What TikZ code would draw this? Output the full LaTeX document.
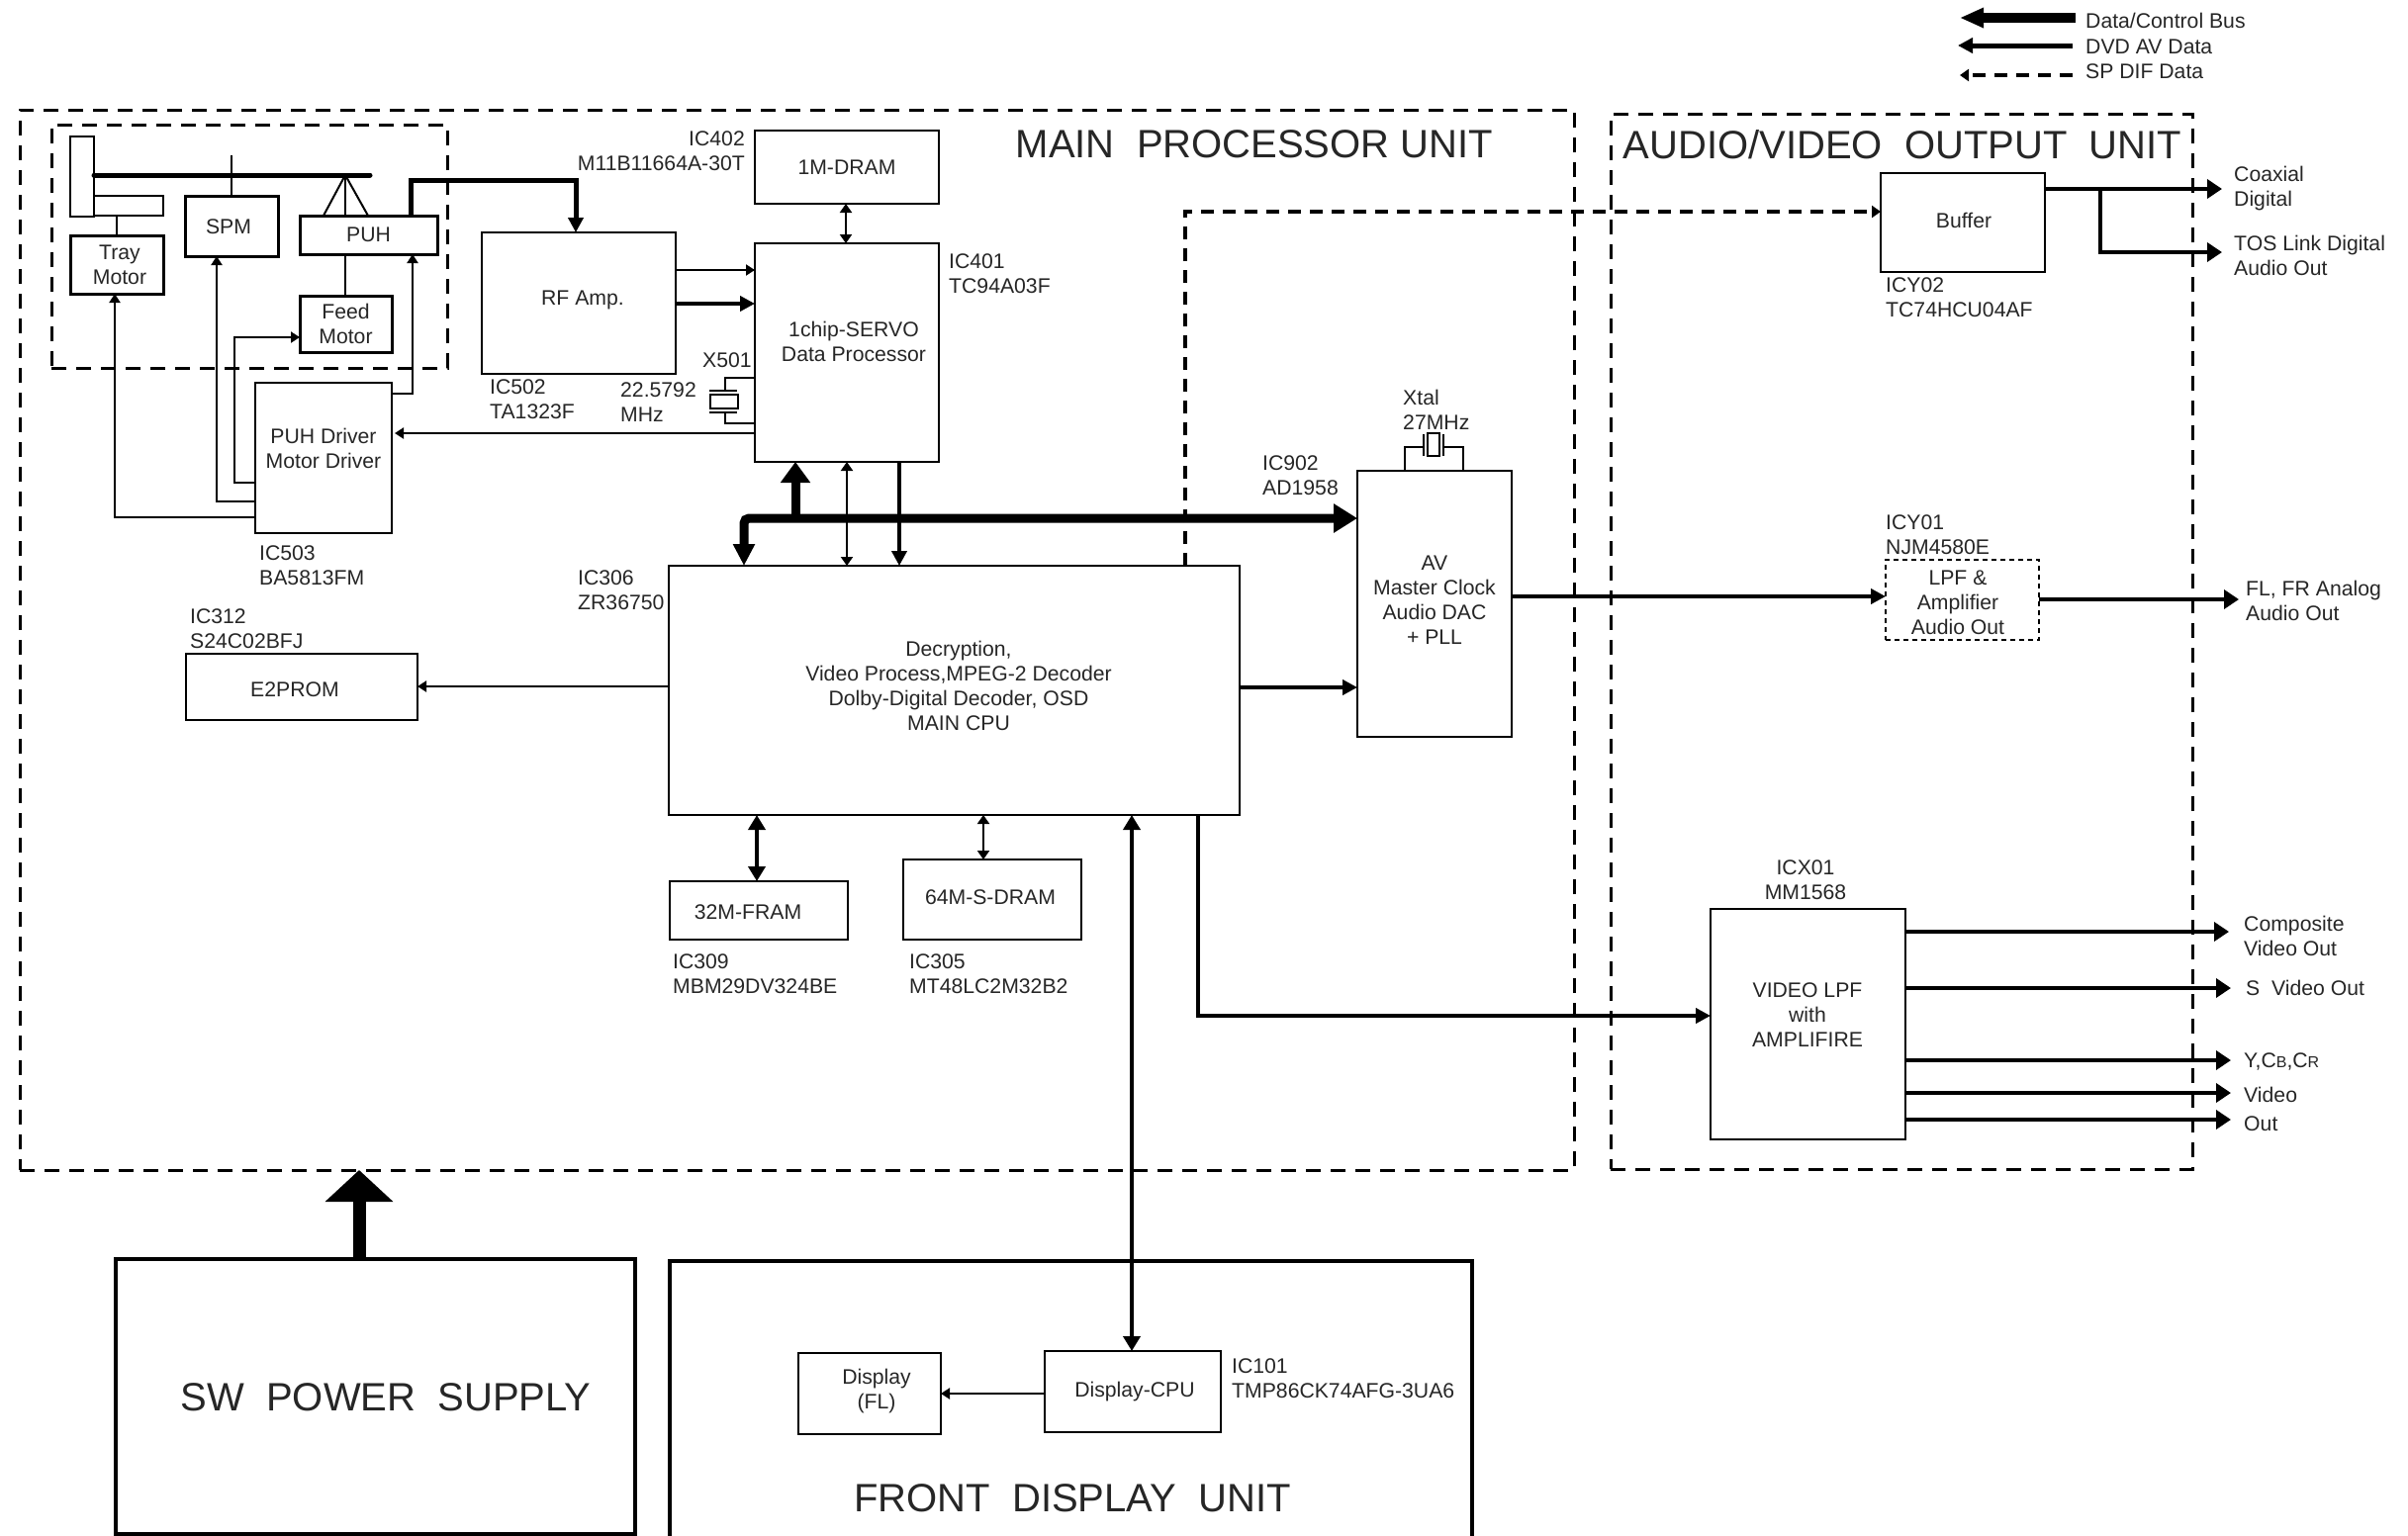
\documentclass[tikz,border=0pt]{standalone}
\usepackage{fontspec}
\setmainfont{Liberation Sans}
\usetikzlibrary{arrows.meta}

\begin{document}
\begin{tikzpicture}[x=1pt,y=-1pt,
  box/.style={draw, line width=2.2pt, inner sep=0pt, outer sep=0pt, align=center, anchor=north west,
    font=\fontsize{21.2}{25}\selectfont, text=black!85},
  bigbox/.style={box, line width=4.5pt},
  txt/.style={inner sep=0pt, align=center, font=\fontsize{21.2}{25}\selectfont, text=black!85},
  note/.style={txt, align=left, anchor=west},
  titletxt/.style={inner sep=0pt, font=\fontsize{40}{46}\selectfont, text=black!85},
  unitframe/.style={draw, line width=3pt, dash pattern=on 15pt off 10pt, anchor=north west, inner sep=0pt, outer sep=0pt},
  wire/.style={line width=2pt},
  thinarrow/.style={line width=2pt, -{Triangle[length=9pt,width=11pt]}},
  thinboth/.style={line width=2pt, {Triangle[length=9pt,width=12pt]}-{Triangle[length=9pt,width=12pt]}},
  dataline/.style={line width=4.5pt, -{Triangle[length=15pt,width=15pt]}},
  dvdarrow/.style={line width=4.5pt, -{Triangle[length=15pt,width=19pt]}},
  dvdboth/.style={line width=4.5pt, {Triangle[length=15pt,width=17pt]}-{Triangle[length=15pt,width=17pt]}},
  busarrow/.style={line width=9pt, -{Triangle[length=21pt,width=29pt]}},
  busboth/.style={line width=9pt, rounded corners=5pt, {Triangle[length=22pt,width=21pt]}-{Triangle[length=24pt,width=28pt]}},
  spdif/.style={line width=4pt, dash pattern=on 13pt off 9pt, -{Triangle[length=9pt,width=12pt]}}
]
\useasboundingbox (0,0) rectangle (2434,1553);

% unit frames
\node[unitframe, minimum width=1571pt, minimum height=1072pt] (mainunit) at (20,111) {};
\node[unitframe, minimum width=588pt, minimum height=1067pt] (avunit) at (1628,115) {};
\node[unitframe, minimum width=400pt, minimum height=246pt] (mechunit) at (52,126) {};
\node[titletxt] (maintitle) at (1268,146) {MAIN\ \ PROCESSOR UNIT};
\node[titletxt] (avtitle) at (1923,146) {AUDIO/VIDEO\ \ OUTPUT\ \ UNIT};

% legend
\coordinate (legbusr) at (2098,18);
\coordinate (legbusl) at (1981,18);
\coordinate (legdvdr) at (2095,46);
\coordinate (legdvdl) at (1979,46);
\coordinate (legspr) at (2095,76);
\coordinate (legspl) at (1981,76);
\draw[line width=10pt, -{Triangle[length=24pt,width=19pt]}] (legbusr) -- (legbusl);
\draw[line width=5pt, -{Triangle[length=15pt,width=15pt]}] (legdvdr) -- (legdvdl);
\draw[spdif] (legspr) -- (legspl);
\node[note] (legbus) at (2108,21) {Data/Control Bus};
\node[note] (legdvd) at (2108,47) {DVD AV Data};
\node[note] (legsp) at (2108,72) {SP DIF Data};

% mechanism
\node[box, minimum width=24pt, minimum height=81pt] (slot) at (71,138) {};
\node[box, minimum width=70pt, minimum height=20pt] (trayrail) at (95,198) {};
\node[box, line width=3pt, minimum width=94pt, minimum height=59pt] (tray) at (71,238) {};
\node[txt] (traytext) at (121,268) {Tray\\Motor};
\node[box, line width=3pt, minimum width=94pt, minimum height=61pt] (spm) at (187,198) {};
\node[txt] (spmtext) at (231,229) {SPM};
\node[box, line width=3pt, minimum width=139pt, minimum height=39pt] (puh) at (303,218) {PUH};
\node[box, line width=3pt, minimum width=93pt, minimum height=57pt] (feed) at (303,299) {Feed\\Motor};
\coordinate (spindle) at (234,157);
\coordinate (apex) at (349,177);
\coordinate (railend) at (374,177);
\draw[line width=5pt, line cap=round] (slot.east |- apex) -- (railend);
\draw[wire] (tray.north |- trayrail.south) -- (tray.north);
\draw[wire] (spindle) -- (spm.north);
\draw[wire] (apex) -- (puh.north -| 327,0);
\draw[wire] (apex) -- (puh.north -| 349,0);
\draw[wire] (apex) -- (puh.north -| 372,0);
\draw[wire] (puh.south -| 349,0) -- (feed.north -| 349,0);

% drive electronics
\node[box, minimum width=138pt, minimum height=152pt] (driver) at (258,387) {};
\node[txt] (drivertext) at (327,453) {PUH Driver\\Motor Driver};
\node[box, minimum width=196pt, minimum height=143pt] (rfamp) at (487,235) {};
\node[txt] (rfamptext) at (589,303) {RF Amp.};
\node[box, minimum width=186pt, minimum height=74pt] (dram) at (763,132) {1M-DRAM};
\node[box, minimum width=186pt, minimum height=221pt] (chip) at (763,246) {};
\node[txt] (chiptext) at (863,345) {1chip-SERVO\\Data Processor};
\node[box, minimum width=577pt, minimum height=252pt] (decoder) at (676,572) {};
\node[txt] (decodertext) at (969,693) {Decryption,\\Video Process,MPEG-2 Decoder\\Dolby-Digital Decoder, OSD\\MAIN CPU};
\node[box, minimum width=234pt, minimum height=67pt] (eeprom) at (188,661) {};
\node[txt] (eepromtext) at (298,697) {E2PROM};
\node[box, minimum width=180pt, minimum height=59pt] (fram) at (677,891) {};
\node[txt] (framtext) at (756,922) {32M-FRAM};
\node[box, minimum width=180pt, minimum height=81pt] (sdram) at (913,869) {};
\node[txt] (sdramtext) at (1001,907) {64M-S-DRAM};
\node[box, minimum width=156pt, minimum height=269pt] (avdac) at (1372,476) {};
\node[txt] (avdactext) at (1450,607) {AV\\Master Clock\\Audio DAC\\+ PLL};
\node[box, minimum width=166pt, minimum height=100pt] (buffer) at (1901,175) {};
\node[txt] (buffertext) at (1985,223) {Buffer};
\node[box, line width=1.5pt, dash pattern=on 5pt off 4pt, minimum width=155pt, minimum height=81pt] (lpf) at (1906,566) {};
\node[txt] (lpftext) at (1979,609) {LPF \&\\Amplifier\\Audio Out};
\node[box, minimum width=197pt, minimum height=233pt] (video) at (1729,919) {};
\node[txt] (videotext) at (1827,1026) {VIDEO LPF\\with\\AMPLIFIRE};

% chip names
\node[note, anchor=east, align=right] (ic402) at (753,153) {IC402\\M11B11664A-30T};
\node[note] (ic401) at (959,277) {IC401\\TC94A03F};
\node[note] (ic502) at (495,404) {IC502\\TA1323F};
\node[note] (ic503) at (262,572) {IC503\\BA5813FM};
\node[note] (ic306) at (584,597) {IC306\\ZR36750};
\node[note] (ic312) at (192,636) {IC312\\S24C02BFJ};
\node[note] (ic309) at (680,985) {IC309\\MBM29DV324BE};
\node[note] (ic305) at (919,985) {IC305\\MT48LC2M32B2};
\node[note] (ic902) at (1276,481) {IC902\\AD1958};
\node[note] (icy02) at (1906,301) {ICY02\\TC74HCU04AF};
\node[note] (icy01) at (1906,541) {ICY01\\NJM4580E};
\node[txt] (icx01) at (1825,890) {ICX01\\MM1568};

% crystals
\node[note] (x501) at (710,364) {X501};
\node[note] (x501mhz) at (627,407) {22.5792\\MHz};
\node[box, line width=1.5pt, minimum width=28pt, minimum height=14pt] (x501can) at (718,399) {};
\coordinate (x501a) at (733,395);
\coordinate (x501b) at (733,417);
\draw[line width=1.5pt] (717,395) -- (745,395);
\draw[line width=1.5pt] (717,417) -- (745,417);
\draw[line width=1.5pt] (chip.west |- 0,382) -| (x501a);
\draw[line width=1.5pt] (chip.west |- 0,428) -| (x501b);
\node[note] (xtal) at (1418,414) {Xtal\\27MHz};
\node[box, line width=1.5pt, minimum width=12pt, minimum height=23pt] (xtalcan) at (1443,438) {};
\coordinate (xtala) at (1439,452);
\coordinate (xtalb) at (1459,452);
\draw[line width=1.5pt] (1439,439) -- (1439,461);
\draw[line width=1.5pt] (1459,439) -- (1459,461);
\draw[line width=1.5pt] (avdac.north -| 1420,0) |- (xtala);
\draw[line width=1.5pt] (avdac.north -| 1479,0) |- (xtalb);

% control wires
\draw[dataline, line width=5pt] (puh.north -| 415,0) |- (582,182) -- (rfamp.north -| 582,0);
\draw[thinarrow] (driver.east |- 0,398) -| (puh.south -| 417,0);
\draw[thinarrow] (driver.west |- 0,488) -| (237,341) -- (feed.west |- 0,341);
\draw[thinarrow] (driver.west |- 0,507) -| (spm.south -| 219,0);
\draw[thinarrow] (driver.west |- 0,523) -| (tray.south -| 116,0);
\draw[thinarrow] (rfamp.east |- 0,273) -- (chip.west |- 0,273);
\draw[dataline] (rfamp.east |- 0,307) -- (chip.west |- 0,307);
\draw[thinarrow, shorten >=3pt] (chip.west |- 0,438) -- (driver.east |- 0,438);
\draw[thinboth] (dram.south -| 855,0) -- (chip.north -| 855,0);

% data paths
\coordinate (busup) at (804,524);
\draw[busboth] (decoder.north -| 752,0) |- (avdac.west |- busup);
\draw[busarrow] (busup) -- (chip.south -| busup);
\draw[thinboth] (chip.south -| 856,0) -- (decoder.north -| 856,0);
\draw[dataline] (chip.south -| 909,0) -- (decoder.north -| 909,0);
\draw[spdif] (decoder.north -| 1198,0) |- (buffer.west |- 0,214);
\draw[thinarrow] (decoder.west |- 0,694) -- (eeprom.east |- 0,694);
\draw[dvdboth] (decoder.south -| 765,0) -- (fram.north -| 765,0);
\draw[thinboth] (decoder.south -| 994,0) -- (sdram.north -| 994,0);
\draw[dataline] (decoder.east |- 0,695) -- (avdac.west |- 0,695);
\draw[dataline] (decoder.south -| 1211,0) |- (video.west |- 0,1027);
\draw[dataline] (avdac.east |- 0,603) -- (lpf.west |- 0,603);

% outputs
\coordinate (coaxend) at (2246,191);
\coordinate (tosend) at (2246,255);
\coordinate (lpfend) at (2263,606);
\coordinate (compend) at (2253,942);
\coordinate (svidend) at (2255,999);
\coordinate (ycbcrend) at (2255,1072);
\coordinate (vidaend) at (2255,1105);
\coordinate (vidbend) at (2255,1132);
\draw[dvdarrow] (buffer.east |- coaxend) -- (coaxend);
\draw[dvdarrow] (2123,191) |- (tosend);
\draw[dvdarrow] (lpf.east |- lpfend) -- (lpfend);
\draw[dvdarrow] (video.east |- compend) -- (compend);
\draw[dvdarrow] (video.east |- svidend) -- (svidend);
\draw[dvdarrow] (video.east |- ycbcrend) -- (ycbcrend);
\draw[dvdarrow] (video.east |- vidaend) -- (vidaend);
\draw[dvdarrow] (video.east |- vidbend) -- (vidbend);
\node[note] (coaxtxt) at (2258,191) {Coaxial\\Digital};
\node[note] (tostxt) at (2258,258) {TOS Link Digital\\Audio Out};
\node[note] (lpftxt) at (2270,607) {FL, FR Analog\\Audio Out};
\node[note] (comptxt) at (2268,946) {Composite\\Video Out};
\node[note] (svidtxt) at (2270,999) {S\ \ Video Out};
\node[note] (ycbcrtxt) at (2268,1073) {Y,C{\fontsize{16}{20}\selectfont B},C{\fontsize{16}{20}\selectfont R}};
\node[note] (vidatxt) at (2268,1107) {Video};
\node[note] (vidbtxt) at (2268,1136) {Out};

% power and front panel
\node[bigbox, minimum width=525pt, minimum height=278pt] (power) at (117,1273) {};
\node[titletxt] (powertxt) at (390,1413) {SW\ \ POWER\ \ SUPPLY};
\node[bigbox, minimum width=811pt, minimum height=300pt] (front) at (677,1275) {};
\node[titletxt] (fronttxt) at (1084,1515) {FRONT\ \ DISPLAY\ \ UNIT};
\node[box, minimum width=178pt, minimum height=82pt] (dispcpu) at (1056,1366) {};
\node[txt] (dispcputext) at (1147,1407) {Display-CPU};
\node[box, minimum width=144pt, minimum height=82pt] (disp) at (807,1368) {};
\node[txt] (disptext) at (886,1406) {Display\\(FL)};
\node[note] (ic101) at (1245,1394) {IC101\\TMP86CK74AFG-3UA6};
\coordinate (powerend) at (363,1183);
\draw[line width=13pt, -{Triangle[length=32pt,width=67pt]}] (power.north -| powerend) -- (powerend);
\draw[dvdboth] (decoder.south -| 1144,0) -- (dispcpu.north -| 1144,0);
\draw[thinarrow] (dispcpu.west |- 0,1409) -- (disp.east |- 0,1409);
\end{tikzpicture}
\end{document}
